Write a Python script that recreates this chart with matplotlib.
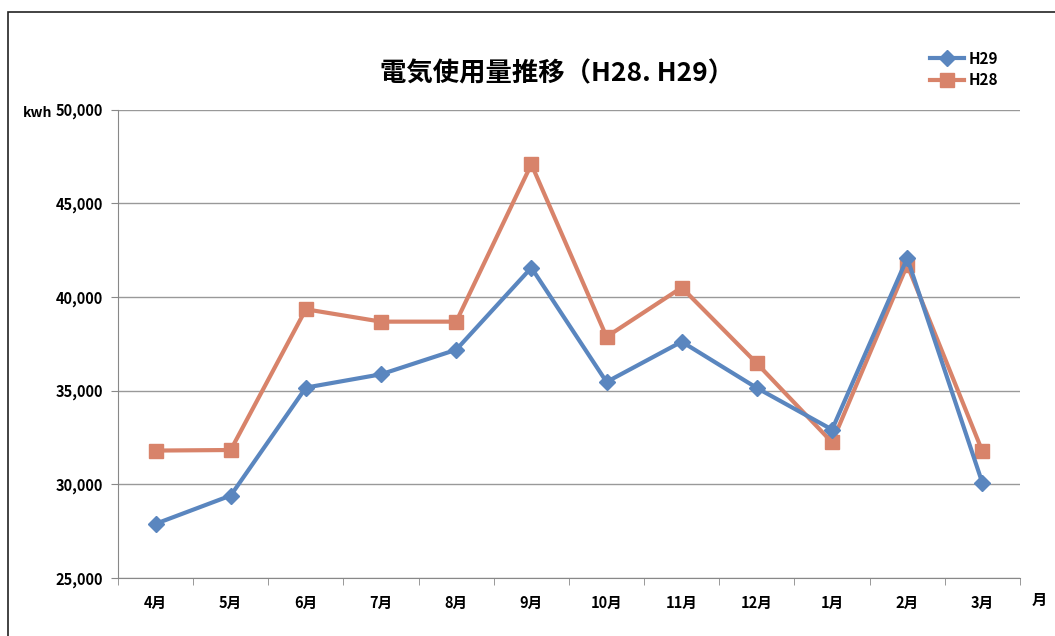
import numpy as np
import matplotlib.pyplot as plt
from matplotlib.patches import Rectangle
from matplotlib.ticker import FuncFormatter

plt.rcParams['font.family'] = ['Noto Sans CJK JP', 'DejaVu Sans']

months = ['4月', '5月', '6月', '7月', '8月', '9月', '10月', '11月', '12月', '1月', '2月', '3月']
h29 = [27890, 29400, 35160, 35870, 37180, 41560, 35460, 37610, 35140, 32920, 42070, 30070]
h28 = [31800, 31830, 39340, 38680, 38680, 47080, 37870, 40500, 36450, 32240, 41710, 31760]

blue = '#5A86BF'
orange = '#D8836A'

fig = plt.figure(figsize=(10.55, 6.36), dpi=100)
ax = fig.add_axes([0.1118, 0.0912, 0.855, 0.7366])

pos = np.arange(len(months))
ax.plot(pos, h29, color=blue, lw=3, marker='D', ms=8, label='H29', zorder=3)
ax.plot(pos, h28, color=orange, lw=3, marker='s', ms=10, label='H28', zorder=2)

ax.set_xlim(-0.5, len(months) - 0.5)
ax.set_ylim(25000, 50000)
ax.set_yticks(np.arange(25000, 50001, 5000))
ax.yaxis.set_major_formatter(FuncFormatter(lambda v, p: f'{int(v):,}'))
ax.set_xticks(pos)
ax.set_xticklabels(months)
ax.set_xticks(np.arange(-0.5, len(months), 1), minor=True)
ax.tick_params(axis='x', which='major', length=0, pad=12)
ax.tick_params(axis='x', which='minor', length=5, color='#888888')
ax.tick_params(axis='y', length=5, color='#888888', pad=6)
for lab in ax.get_xticklabels() + ax.get_yticklabels():
    lab.set_fontweight('bold')
    lab.set_fontsize(10.5)

ax.grid(axis='y', color='#999999', lw=1)
ax.set_axisbelow(True)
for s in ['top', 'right']:
    ax.spines[s].set_visible(False)
for s in ['left', 'bottom']:
    ax.spines[s].set_color('#888888')

fig.text(0.528, 0.884, '電気使用量推移（H28. H29）', ha='center', va='center',
         fontsize=19, fontweight='bold')
fig.text(0.022, 0.823, 'kwh', ha='left', va='center', fontsize=10, fontweight='bold')
fig.text(0.985, 0.057, '月', ha='center', va='center', fontsize=11, fontweight='bold')

ax.legend(loc='upper left', bbox_to_anchor=(0.885, 1.155), frameon=False,
          handlelength=2.2, labelspacing=0.35, handletextpad=0.3,
          prop={'weight': 'bold', 'size': 11})

fig.patches.append(Rectangle((0.008, -0.1), 1.2, 1.081, transform=fig.transFigure,
                             fill=False, ec='#222222', lw=1.2))

fig.savefig('out.png', dpi=100)
